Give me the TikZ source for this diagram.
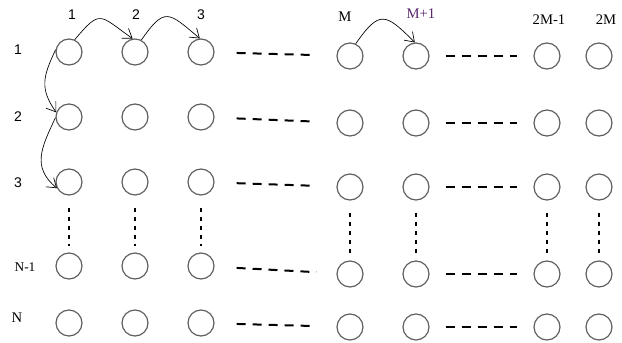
\documentclass[tikz,border=0pt]{standalone}
\usepackage{fontspec}
\setmainfont{Liberation Serif}
\newfontfamily\labelsans{Liberation Sans}
\usepackage{xcolor}
\usetikzlibrary{arrows.meta}

\definecolor{ringgray}{RGB}{96,96,96}
\definecolor{labelpurple}{RGB}{88,40,110}

\begin{document}
\begin{tikzpicture}[
  x=0.75pt, y=0.75pt,
  site/.style={circle, draw=ringgray, line width=0.9pt, minimum size=19.5pt, inner sep=0pt},
  numlabel/.style={font=\fontsize{10.5}{12}\selectfont\labelsans},
  letlabel/.style={font=\fontsize{11}{13}\selectfont},
  hop/.style={-{Straight Barb[length=6.5pt,width=9pt]}, line width=0.5pt},
  rowgap/.style={line width=1.5pt, dash pattern=on 6.75pt off 5.25pt},
  colgap/.style={line width=1.5pt, dash pattern=on 3pt off 3.75pt, shorten <=9pt, shorten >=4.5pt}
]
  \useasboundingbox (0,0) rectangle (622,343);

  % Sites, left block
  \foreach \r/\y in {1/291,2/226,3/161,4/77,5/20}
    \foreach \c/\x in {1/69,2/135,3/201}
      \node[site] (s-\r-\c) at (\x,\y) {};

  % Sites, right block
  \foreach \r/\y in {1/287,2/220,3/156,4/69,5/16}
    \foreach \c/\x in {4/350,5/416,6/547,7/599}
      \node[site] (s-\r-\c) at (\x,\y) {};

  % Gaps along rows
  \foreach \r in {1,...,5}{
    \draw[rowgap, shorten <=16.5pt, shorten >=15pt] (s-\r-3) -- (s-\r-4);
    \draw[rowgap, shorten <=12pt, shorten >=12pt] (s-\r-5) -- (s-\r-6);
  }

  % Gaps along columns
  \foreach \c in {1,...,7}
    \draw[colgap] (s-3-\c) -- (s-4-\c);

  % Column labels
  \node[numlabel] (top1) at (72,328) {1};
  \node[numlabel] (top2) at (136,328) {2};
  \node[numlabel] (top3) at (201,328) {3};
  \node[letlabel] (topM) at (345,326) {M};
  \node[letlabel, text=labelpurple] (topM1) at (421,329) {M+1};
  \node[letlabel] (top2M1) at (549,323) {2M-1};
  \node[letlabel] (top2M) at (606,323) {2M};

  % Row labels
  \node[numlabel] (row1) at (18,293) {1};
  \node[numlabel] (row2) at (18,226) {2};
  \node[numlabel] (row3) at (18,160) {3};
  \node[letlabel, font=\fontsize{10}{12}\selectfont] (rowN1) at (25,76) {N-1};
  \node[letlabel] (rowN) at (17,25) {N};

  % Hops
  \draw[hop] (s-1-1.65) to[out=50, in=145, looseness=1.8] (s-1-2.100);
  \draw[hop] (s-1-2.62) to[out=55, in=140, looseness=1.8] (s-1-3.95);
  \draw[hop] (s-1-1.170) to[out=245, in=125, looseness=1.2] (s-2-1.160);
  \draw[hop] (s-2-1.183) to[out=245, in=140, looseness=1.2] (s-3-1.207);
  \draw[hop] (s-1-4.65) to[out=55, in=135, looseness=1.8] (s-1-5.95);
\end{tikzpicture}
\end{document}
